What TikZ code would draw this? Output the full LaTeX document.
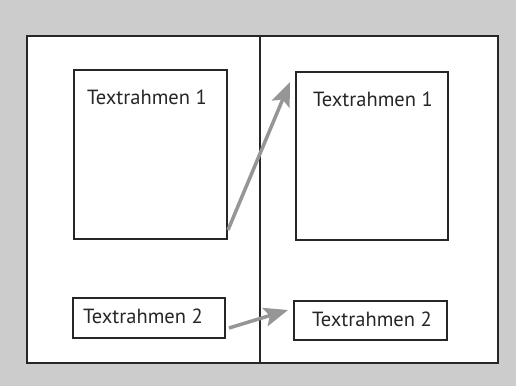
\documentclass[tikz,border=0pt]{standalone}
\usepackage{fontspec}
\setmainfont{PT Sans}
\usetikzlibrary{arrows.meta}
\definecolor{bggray}{RGB}{204,204,204}
\definecolor{arrowgray}{RGB}{150,150,150}
\tikzset{
  frame/.style={draw=black!85, line width=1.6pt},
  lbl/.style={anchor=base west, inner sep=0pt, font=\fontsize{20.5}{22}\selectfont, text=black!85},
  mover/.style={draw=arrowgray, line width=3.5pt, -{Stealth[length=24pt,width=19pt,inset=5pt]}}
}
\begin{document}
\begin{tikzpicture}[x=1pt,y=-1pt]
\fill[bggray] (0,0) rectangle (516,386);
\useasboundingbox (0,0) rectangle (516,386);
\node[frame, fill=white, minimum width=471pt, minimum height=327pt, anchor=north west, inner sep=0pt] (page) at (26,35) {};
\node[frame, minimum width=153pt, minimum height=169pt, anchor=north west, inner sep=0pt] (l1) at (73,69) {};
\node[frame, minimum width=152pt, minimum height=168pt, anchor=north west, inner sep=0pt] (r1) at (295,71) {};
\node[frame, minimum width=152pt, minimum height=40pt, anchor=north west, inner sep=0pt] (l2) at (72,297) {};
\node[frame, minimum width=153pt, minimum height=39pt, anchor=north west, inner sep=0pt] (r2) at (293,300) {};
\coordinate (dtop) at (260,35);
\coordinate (dbot) at (260,362);
\draw[black!85, line width=1.6pt] (dtop) -- (dbot);
\node[lbl] (t1) at (87,104) {Textrahmen 1};
\node[lbl] (t2) at (313,106) {Textrahmen 1};
\node[lbl] (t3) at (83,323) {Textrahmen 2};
\node[lbl] (t4) at (312,326) {Textrahmen 2};
\coordinate (a1s) at (228,230);
\coordinate (a1e) at (290,82);
\coordinate (a2s) at (229,328);
\coordinate (a2e) at (288,310);
\draw[mover] (a1s) -- (a1e);
\draw[mover] (a2s) -- (a2e);
\end{tikzpicture}
\end{document}
